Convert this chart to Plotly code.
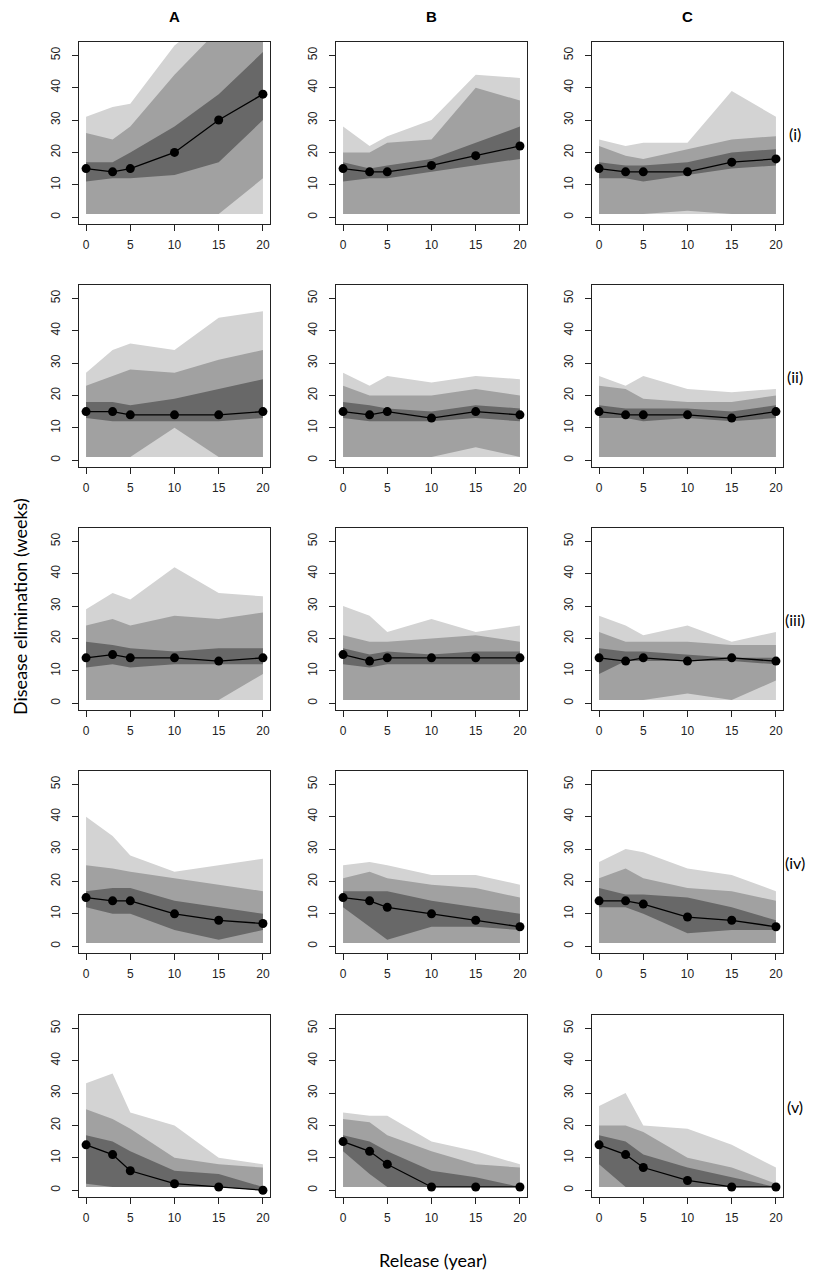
#!/usr/bin/env python3

import plotly.graph_objects as go

# the page body keeps its default 8px margin, so the figure is drawn
# 8px smaller and every pixel position below is shifted by that much
PAGE_W, PAGE_H, OFF = 829, 1275, 8
W, H = PAGE_W - OFF, PAGE_H - OFF

years = [0, 3, 5, 10, 15, 20]
columns = ['A', 'B', 'C']
rows = ['(i)', '(ii)', '(iii)', '(iv)', '(v)']

# one row per panel, row-major: (i)A, (i)B, (i)C, (ii)A, ...
median = [
    [15, 14, 15, 20, 30, 38], [15, 14, 14, 16, 19, 22], [15, 14, 14, 14, 17, 18],
    [15, 15, 14, 14, 14, 15], [15, 14, 15, 13, 15, 14], [15, 14, 14, 14, 13, 15],
    [14, 15, 14, 14, 13, 14], [15, 13, 14, 14, 14, 14], [14, 13, 14, 13, 14, 13],
    [15, 14, 14, 10, 8, 7], [15, 14, 12, 10, 8, 6], [14, 14, 13, 9, 8, 6],
    [14, 11, 6, 2, 1, 0], [15, 12, 8, 1, 1, 1], [14, 11, 7, 3, 1, 1],
]
hi95 = [
    [31, 34, 35, 53, 64, 72], [28, 22, 25, 30, 44, 43], [24, 22, 23, 23, 39, 31],
    [27, 34, 36, 34, 44, 46], [27, 23, 26, 24, 26, 25], [26, 23, 26, 22, 21, 22],
    [29, 34, 32, 42, 34, 33], [30, 27, 22, 26, 22, 24], [27, 24, 21, 24, 19, 22],
    [40, 34, 28, 23, 25, 27], [25, 26, 25, 22, 22, 19], [26, 30, 29, 24, 22, 17],
    [33, 36, 24, 20, 10, 8], [24, 23, 23, 15, 12, 8], [26, 30, 20, 19, 14, 7],
]
hi80 = [
    [26, 24, 28, 44, 58, 66], [20, 20, 23, 24, 40, 36], [22, 19, 18, 21, 24, 25],
    [23, 26, 28, 27, 31, 34], [23, 20, 20, 20, 22, 20], [23, 22, 19, 18, 18, 20],
    [24, 26, 24, 27, 26, 28], [21, 19, 19, 20, 21, 19], [22, 19, 19, 19, 18, 18],
    [25, 24, 23, 21, 19, 17], [21, 23, 21, 19, 18, 15], [21, 24, 21, 18, 17, 14],
    [25, 22, 19, 10, 8, 7], [22, 21, 17, 12, 8, 7], [20, 20, 18, 10, 7, 2],
]
hi50 = [
    [17, 17, 20, 28, 38, 51], [17, 15, 16, 18, 23, 28], [17, 16, 16, 17, 20, 21],
    [18, 18, 17, 19, 22, 25], [18, 17, 16, 15, 17, 16], [17, 16, 16, 16, 15, 17],
    [19, 18, 17, 16, 17, 17], [17, 15, 16, 15, 16, 16], [17, 16, 16, 15, 14, 14],
    [17, 18, 18, 14, 12, 10], [17, 17, 17, 14, 12, 10], [18, 16, 16, 15, 12, 8],
    [17, 15, 12, 6, 5, 1], [17, 15, 12, 6, 4, 1], [17, 15, 11, 7, 4, 1],
]
lo50 = [
    [11, 12, 12, 13, 17, 30], [11, 12, 12, 14, 16, 18], [12, 12, 11, 13, 15, 16],
    [13, 12, 12, 12, 12, 13], [13, 12, 12, 12, 13, 12], [13, 13, 12, 13, 12, 13],
    [11, 12, 11, 12, 12, 12], [12, 11, 12, 12, 12, 12], [9, 13, 13, 13, 13, 12],
    [12, 10, 10, 5, 2, 5], [12, 6, 2, 6, 6, 5], [12, 12, 10, 4, 5, 5],
    [2, 1, 1, 1, 1, 0], [12, 5, 1, 1, 1, 1], [8, 1, 1, 1, 1, 1],
]
lo80 = [
    [1, 1, 1, 1, 1, 12], [1, 1, 1, 1, 1, 1], [1, 1, 1, 2, 1, 1],
    [1, 1, 1, 10, 1, 1], [1, 1, 1, 1, 4, 1], [1, 1, 1, 1, 1, 1],
    [1, 1, 1, 1, 1, 9], [1, 1, 1, 1, 1, 1], [1, 1, 1, 3, 1, 7],
    [1, 1, 1, 1, 1, 1], [1, 1, 1, 1, 1, 1], [1, 1, 1, 1, 1, 1],
    [1, 1, 1, 1, 1, 0], [1, 1, 1, 1, 1, 1], [1, 1, 1, 1, 1, 1],
]
lo95 = [
    [1, 1, 1, 1, 1, 1], [1, 1, 1, 1, 1, 1], [1, 1, 1, 1, 1, 1],
    [1, 1, 1, 1, 1, 1], [1, 1, 1, 1, 1, 1], [1, 1, 1, 1, 1, 1],
    [1, 1, 1, 1, 1, 1], [1, 1, 1, 1, 1, 1], [1, 1, 1, 1, 1, 1],
    [1, 1, 1, 1, 1, 1], [1, 1, 1, 1, 1, 1], [1, 1, 1, 1, 1, 1],
    [1, 1, 1, 1, 1, 0], [1, 1, 1, 1, 1, 1], [1, 1, 1, 1, 1, 1],
]

LIGHT, MID, DARK = '#d3d3d3', '#a1a1a1', '#686868'

# panel boxes in page pixels
col_left = [79, 336, 592]
box_w = 191
row_top = [42, 285, 528, 771, 1015]
box_h = 182

fig = go.Figure()
layout = {}


def fx(px):
    return (px - OFF) / W


def fy(py):
    return 1 - (py - OFF) / H


def band(x, lo, hi, color, ax):
    return go.Scatter(
        x=x + x[::-1], y=hi + lo[::-1],
        fill='toself', fillcolor=color, mode='lines',
        line=dict(width=0), hoverinfo='skip', showlegend=False,
        xaxis='x' + ax, yaxis='y' + ax,
    )


for r in range(len(rows)):
    for c in range(len(columns)):
        k = r * 3 + c
        ax = '' if k == 0 else str(k + 1)
        fig.add_trace(band(years, lo95[k], hi95[k], LIGHT, ax))
        fig.add_trace(band(years, lo80[k], hi80[k], MID, ax))
        fig.add_trace(band(years, lo50[k], hi50[k], DARK, ax))
        fig.add_trace(go.Scatter(
            x=years, y=median[k], mode='lines+markers',
            line=dict(color='black', width=1.3),
            marker=dict(color='black', size=9),
            showlegend=False, xaxis='x' + ax, yaxis='y' + ax,
        ))

        common = dict(
            showline=True, mirror=True, linecolor='#222', linewidth=1,
            ticks='outside', ticklen=6, tickcolor='#222', showgrid=False,
            zeroline=False, tickfont=dict(family='Liberation Sans', size=12,
                                          color='#222'),
        )
        layout['xaxis' + ax] = dict(
            common, domain=[fx(col_left[c]), fx(col_left[c] + box_w)],
            range=[-0.8, 20.8], tickvals=[0, 5, 10, 15, 20],
            anchor='y' + ax, ticklabelstandoff=4,
        )
        layout['yaxis' + ax] = dict(
            common, domain=[fy(row_top[r] + box_h), fy(row_top[r])],
            range=[-2.1, 54.1], tickvals=[0, 10, 20, 30, 40, 50],
            tickangle=-90, anchor='x' + ax, ticklabelstandoff=7,
        )


def label(text, px, py, size, family='Lato', angle=0):
    return dict(
        text=text, x=fx(px), y=fy(py), xref='paper', yref='paper',
        xanchor='center', yanchor='middle', showarrow=False,
        textangle=angle, font=dict(family=family, size=size, color='black'),
    )


annotations = []
for c, name in enumerate(columns):
    annotations.append(label('<b>%s</b>' % name, col_left[c] + box_w / 2,
                             16, 15, family='Liberation Sans'))
for r, name in enumerate(rows):
    annotations.append(label(name, 795, row_top[r] + box_h / 2, 16))
annotations.append(label('Disease elimination (weeks)', 20, 607, 18,
                         angle=-90))
annotations.append(label('Release (year)', 433, 1260, 18))

fig.update_layout(
    width=W, height=H,
    margin=dict(l=0, r=0, t=0, b=0),
    plot_bgcolor='white', paper_bgcolor='white',
    annotations=annotations,
    **layout,
)

fig.write_html('out.html')
